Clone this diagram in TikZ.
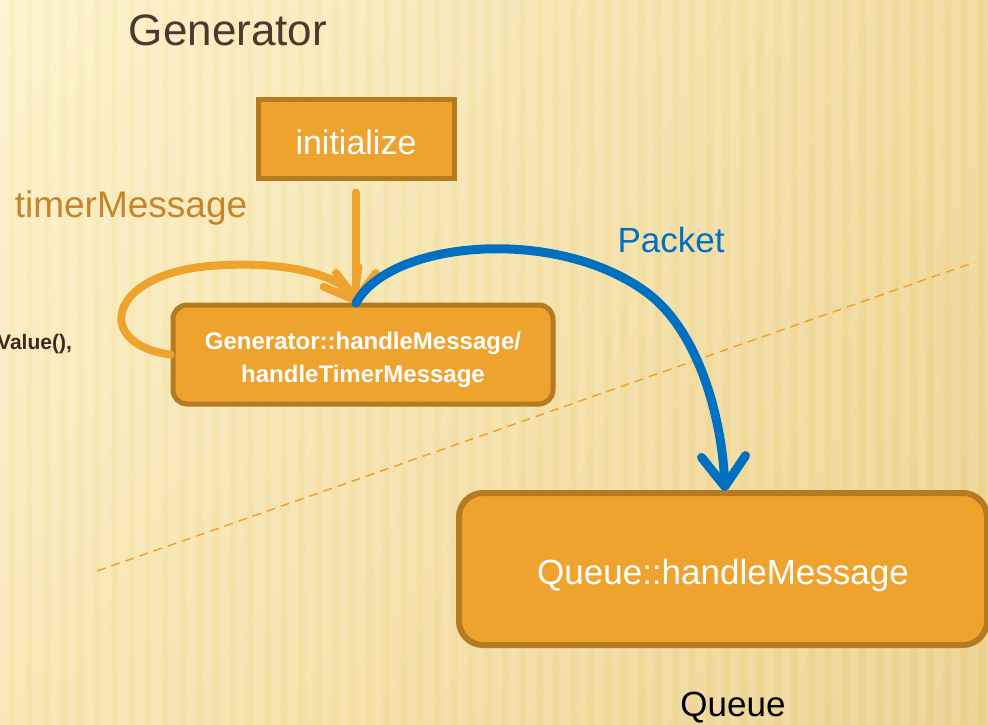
\documentclass[tikz,border=0pt]{standalone}
\usepackage{fontspec}
\setmainfont{Liberation Sans}
\usetikzlibrary{arrows.meta,calc,shadings}
\definecolor{boxfill}{HTML}{EFA32F}
\definecolor{boxedge}{HTML}{B57A22}
\definecolor{pktblue}{HTML}{0070C0}
\definecolor{titlebrown}{HTML}{4A3A2C}
\definecolor{tmorange}{HTML}{C98328}
\definecolor{bgUL}{HTML}{FDF3CC}
\definecolor{bgUR}{HTML}{F0DA9C}
\definecolor{bgLL}{HTML}{F8E6B2}
\definecolor{bgLR}{HTML}{ECD290}
\definecolor{valtext}{HTML}{3A2A20}
\begin{document}
\begin{tikzpicture}[x=1pt,y=-1pt,
  titletext/.style={text=titlebrown,font=\fontsize{44}{50}\selectfont,inner sep=0pt},
  lbltext/.style={font=\fontsize{35}{42}\selectfont,inner sep=0pt},
  obox/.style={draw=boxedge,fill=boxfill,text=white},
  oarrow/.style={draw=boxfill,line width=8pt,line cap=round,
    -{Straight Barb[length=26pt,width=40pt,round]}},
  barrow/.style={draw=pktblue,line width=9pt,line cap=round,
    -{Straight Barb[length=30pt,width=44pt,round]}},
  dashline/.style={draw=boxfill,line width=1.5pt,dash pattern=on 9pt off 6pt}]
\useasboundingbox (0,0) rectangle (988,725);
% background
\shade[upper left=bgUL,upper right=bgUR,lower left=bgLL,lower right=bgLR] (0,0) rectangle (988,725);
\foreach \i in {0,...,58}{
  \fill[white,opacity=0.10] (\i*17,0) rectangle ++(8,725);
  \fill[brown!60!yellow,opacity=0.035] (\i*17+10,0) rectangle ++(5,725);
}
% texts
\node[titletext] (gentitle) at (228,30) {Generator};
\node[text=tmorange,inner sep=0pt,font=\fontsize{37}{42}\selectfont] (tm) at (131,208) {timerMessage};
\node[lbltext,text=pktblue] (pk) at (671,240) {Packet};
\node[lbltext,text=black] (qtitle) at (733,708) {Queue};
\node[anchor=west,inner sep=0pt,text=valtext,font=\bfseries\fontsize{21}{24}\selectfont] (val) at (-3,344) {Value(),};
% dashed line
\coordinate (d1) at (97,571);
\coordinate (d2) at (975,262);
\draw[dashline] (d1) -- (d2);
% boxes
\node[obox,line width=5pt,minimum width=196pt,minimum height=79pt,inner sep=0pt,
  font=\fontsize{34}{40}\selectfont] (init) at (356,138.5) {\raisebox{-4pt}[\height][\depth]{initialize}};
\node[obox,line width=5pt,rounded corners=14pt,minimum width=380pt,minimum height=99pt,
  inner sep=0pt,font=\bfseries\fontsize{24}{33}\selectfont] (ghm) at (363,354.5)
  {\raisebox{-5pt}[\height][\depth]{\begin{tabular}{@{}c@{}}Generator::handleMessage/\\handleTimerMessage\end{tabular}}};
\node[obox,line width=6pt,rounded corners=24pt,minimum width=528pt,minimum height=152pt,
  inner sep=0pt,font=\fontsize{35}{42}\selectfont] (qhm) at (723,569) {\raisebox{-6pt}[\height][\depth]{Queue::handleMessage}};
% connectors
\coordinate (tip) at (356,303);
\coordinate (qtip) at (725,491);
\draw[oarrow] ([yshift=-12pt]init.south) -- (tip);
\draw[oarrow] (ghm.west) .. controls (95,345) and (105,275) .. (210,266)
  .. controls (285,260) and (340,275) .. (tip);
\draw[barrow] (tip) .. controls (390,240) and (560,225) .. (650,295)
  .. controls (700,335) and (722,420) .. (qtip);
\end{tikzpicture}
\end{document}
